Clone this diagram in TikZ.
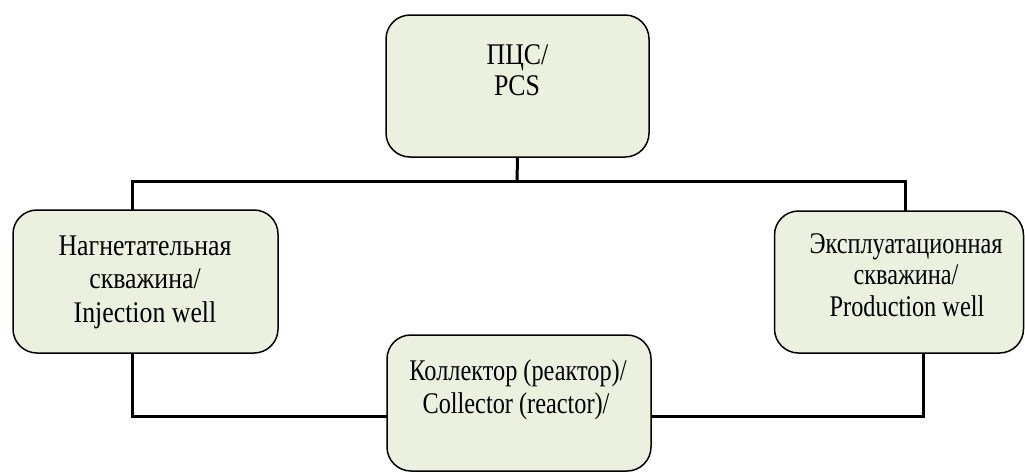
\documentclass[tikz,border=0pt]{standalone}
\usepackage{fontspec}
\usepackage{graphicx}
\setmainfont{Liberation Serif}
\definecolor{boxfill}{HTML}{EBF1DE}
\newcommand\sq[1]{\scalebox{0.86}[1]{#1}}
\newcommand\sqn[1]{\scalebox{0.81}[1]{#1}}
\begin{document}
\begin{tikzpicture}[x=1pt,y=-1pt,
  box/.style={draw=black, line width=1.5pt, fill=boxfill, rounded corners=24pt, inner sep=0pt},
  conn/.style={draw=black, line width=3pt},
  txt/.style={font=\fontsize{30}{33}\selectfont, anchor=base, inner sep=0pt}]
\useasboundingbox (0,0) rectangle (1025,472);
% boxes
\node[box, minimum width=263pt, minimum height=142pt] (pcs) at (517.5,86) {};
\node[box, minimum width=265pt, minimum height=143pt] (inj) at (145.5,281.5) {};
\node[box, minimum width=249pt, minimum height=142pt] (prod) at (899,282) {};
% connector ends
\coordinate (bus) at (517,181);
\coordinate (injtop) at (132,210);
\coordinate (prodtop) at (905,211);
\coordinate (busR) at (905,181);
\coordinate (injbot) at (132,353);
\coordinate (prodbot) at (923,353);
\coordinate (collL) at (387,416);
\coordinate (collR) at (651,416);
% connectors
\draw[conn] (pcs.south) -- (bus);
\draw[conn] (injtop) |- (busR) -- (prodtop);
\draw[conn] (injbot) |- (collL);
\draw[conn] (collR) -| (prodbot);
\node[box, minimum width=264pt, minimum height=136pt] (coll) at (519,403) {};
% texts
\node[txt] (tpcs1) at (517.5,64) {\sq{ПЦС/}};
\node[txt] (tpcs2) at (517,95) {\sq{PCS}};
\node[txt] (tinj1) at (145,255) {\sq{Нагнетательная}};
\node[txt] (tinj2) at (145,288) {\sq{скважина/}};
\node[txt] (tinj3) at (145,322) {\sq{Injection well}};
\node[txt] (tprod1) at (906,253) {\sqn{Эксплуатационная}};
\node[txt] (tprod2) at (906,284) {\sqn{скважина/}};
\node[txt] (tprod3) at (907,316) {\sqn{Production well}};
\node[txt] (tcoll1) at (518,380) {\sqn{Коллектор (реактор)/}};
\node[txt] (tcoll2) at (516,413) {\sqn{Collector (reactor)/}};
\end{tikzpicture}
\end{document}
